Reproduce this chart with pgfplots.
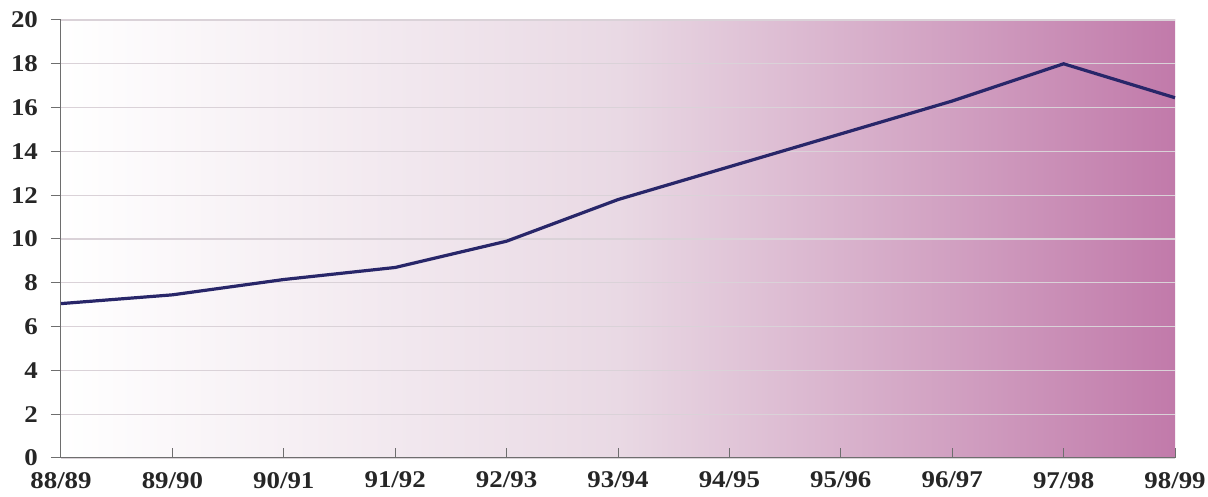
\documentclass[border=0pt]{standalone}
\usepackage{fontspec}
\setmainfont{Liberation Serif}[FakeStretch=1.12]
\usepackage{pgfplots}
\pgfplotsset{compat=1.18}

\definecolor{linenavy}{RGB}{40,38,105}
\definecolor{bgright}{RGB}{193,122,170}
\definecolor{bgmid}{RGB}{233,217,228}
\definecolor{gridc}{RGB}{218,210,216}
\definecolor{axisc}{RGB}{110,110,110}

\pgfplotstableread{
x  y
0  7.05
1  7.45
2  8.15
3  8.70
4  9.90
5  11.80
6  13.30
7  14.80
8  16.30
9  18.00
10 16.45
}\ratedata

\begin{document}
\begin{tikzpicture}
\useasboundingbox (-30.5pt,-19.5pt) rectangle (573.5pt,229pt);
\begin{axis}[
  scale only axis,
  width=557pt, height=219pt,
  xmin=0, xmax=10, ymin=0, ymax=20,
  xtick={0,...,10},
  xticklabels={88/89,89/90,90/91,91/92,92/93,93/94,94/95,95/96,96/97,97/98,98/99},
  ytick={0,2,...,20},
  axis x line*=bottom,
  axis y line*=left,
  axis line style={axisc, line width=0.5pt},
  tick style={axisc, line width=0.5pt},
  major tick length=5pt,
  xtick align=inside,
  ytick align=outside,
  ymajorgrids,
  grid style={gridc, line width=0.6pt},
  tick label style={font=\fontsize{12}{14}\selectfont\bfseries, text=black!85},
  /pgf/number format/assume math mode=true,
  yticklabel style={xshift=-3pt},
  xticklabel style={yshift=-3.5pt},
  axis background/.style={left color=white, right color=bgright, middle color=bgmid},
  clip=false,
]
\addplot[linenavy, line width=1.6pt] table[x=x, y=y] {\ratedata};
\end{axis}
\end{tikzpicture}
\end{document}
